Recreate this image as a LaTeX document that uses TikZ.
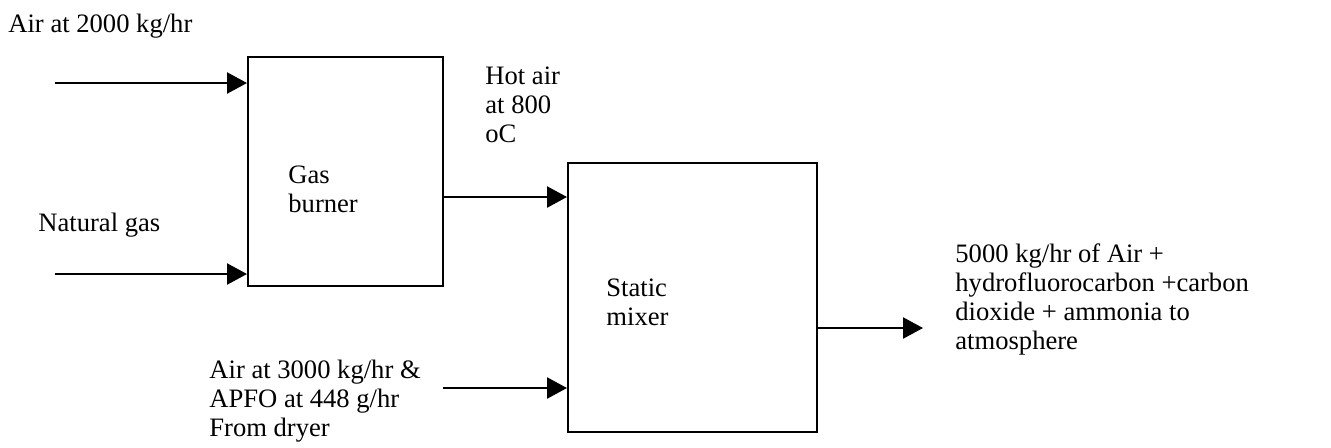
\documentclass[tikz,border=0pt]{standalone}
\usepackage{fontspec}
\setmainfont{Liberation Serif}
\usetikzlibrary{arrows.meta,positioning}

\tikzset{
  unit/.style={draw, line width=1pt, minimum width=97.5pt, minimum height=114.5pt, inner sep=0pt},
  flow/.style={line width=1.2pt, -{Triangle[length=10pt,width=10.5pt]}},
  lbl/.style={font=\fontsize{13.3}{14.5}\selectfont, align=left, inner sep=0pt, anchor=base west}
}

\begin{document}
\begin{tikzpicture}[x=0.5pt,y=-0.5pt]
\useasboundingbox (0,0) rectangle (1331,447);

%% equipos %%%%%%%%%%%%%%%%%%%%%%%%%%%%%%%%%%%%%
\node[unit] (burner) at (345.5,171.5) {};
\node[unit, minimum width=124.5pt, minimum height=134.5pt] (mixer) at (692.5,297.5) {};
%% base = ultima linea del texto
\node[lbl] (burnerlbl) at (288,212) {Gas\\burner};
\node[lbl] (mixerlbl) at (606,325) {Static\\mixer};

%% corrientes (x , y) %%%%%%%%%%%%%%%%%%%%%%%%%%
\coordinate (airin) at (55,83);
\coordinate (gasin) at (55,274);
\coordinate (dryerin) at (443,388);
\coordinate (outlet) at (923,328);

\draw[flow] (airin) -- (airin -| burner.west);
\draw[flow] (gasin) -- (gasin -| burner.west);
\draw[flow] ([yshift=-12.75pt]burner.east) coordinate (hotout) -- (hotout -| mixer.west);
\draw[flow] (dryerin) -- (dryerin -| mixer.west);
\draw[flow] (mixer.east |- outlet) -- (outlet);

%% textos %%%%%%%%%%%%%%%%%%%%%%%%%%%%%%%%%%%%%%
\node[lbl] (airlbl) at (8,32) {Air at 2000 kg/hr};
\node[lbl] (gaslbl) at (38,231) {Natural gas};
\node[lbl] (hotlbl) at (485,142) {Hot air\\at 800\\oC};
\node[lbl] (dryerlbl) at (209,436) {Air at 3000 kg/hr \&\\APFO at 448 g/hr\\From dryer};
\node[lbl] (outlbl) at (955,349) {5000 kg/hr of Air +\\hydrofluorocarbon +carbon\\dioxide + ammonia to\\atmosphere};
%%%%%%%%%%%%%%%%%%%%%%%%%%%%%%%%%%%%%%%%%%%%%%%%%
\end{tikzpicture}
\end{document}
